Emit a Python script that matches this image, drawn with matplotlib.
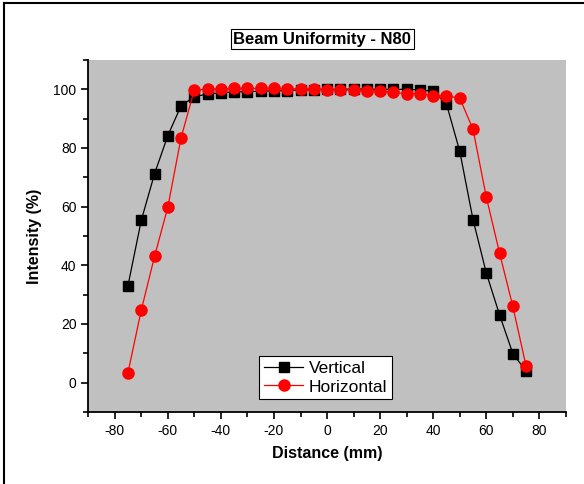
import numpy as np
import matplotlib.pyplot as plt
from matplotlib.lines import Line2D

plt.rcParams['font.family'] = ['Liberation Sans', 'DejaVu Sans']
plt.rcParams['axes.unicode_minus'] = False

distance = [-75, -70, -65, -60, -55, -50, -45, -40, -35, -30, -25, -20, -15, -10, -5, 0,
            5, 10, 15, 20, 25, 30, 35, 40, 45, 50, 55, 60, 65, 70, 75]
vertical = [33.1, 55.3, 71.2, 84.2, 94.4, 97.5, 98.4, 98.8, 99.1, 99.2, 99.4, 99.5, 99.6, 99.8, 99.9, 100.0,
            100.0, 100.1, 100.1, 100.0, 100.0, 100.0, 99.8, 99.3, 95.0, 78.9, 55.6, 37.4, 23.1, 9.9, 3.9]
horizontal = [3.4, 24.7, 43.0, 59.8, 83.5, 99.8, 100.0, 100.2, 100.3, 100.3, 100.3, 100.4, 100.2, 100.2, 100.1, 99.9,
              99.8, 99.7, 99.4, 99.3, 99.0, 98.5, 98.5, 97.8, 97.8, 97.0, 86.4, 63.3, 44.2, 26.0, 5.6]

fig = plt.figure(figsize=(5.84, 4.84), dpi=100)
ax = fig.add_axes([0.151, 0.149, 0.818, 0.727])
ax.set_facecolor('#c0c0c0')

ax.plot(distance, vertical, color='black', lw=0.9, marker='s', ms=6.5, label='Vertical')
ax.plot(distance, horizontal, color='red', lw=0.9, marker='o', ms=8, label='Horizontal')

ax.set_xlim(-90, 90)
ax.set_ylim(-10, 110)
ax.set_xticks(np.arange(-80, 81, 20))
ax.set_xticks(np.arange(-90, 91, 10), minor=True)
ax.set_yticks(np.arange(0, 101, 20))
ax.set_yticks(np.arange(-10, 111, 10), minor=True)
ax.tick_params(which='major', direction='out', length=5, width=1.2, labelsize=10)
ax.tick_params(which='minor', direction='out', length=3.5, width=1.2)
ax.spines['top'].set_visible(False)
ax.spines['right'].set_visible(False)
ax.spines['left'].set_linewidth(1.3)
ax.spines['bottom'].set_linewidth(1.3)

ax.set_xlabel('Distance (mm)', fontsize=11.5, fontweight='bold', labelpad=6)
ax.set_ylabel('Intensity (%)', fontsize=11.5, fontweight='bold', labelpad=8)

leg = ax.legend(loc='lower left', bbox_to_anchor=(0.358, 0.037), borderaxespad=0,
                fontsize=12.5, fancybox=False, framealpha=1, edgecolor='black',
                handlelength=2.3, handletextpad=0.3, borderpad=0.25, labelspacing=0.2)
leg.get_frame().set_linewidth(0.8)

fig.text(0.552, 0.919, 'Beam Uniformity - N80', ha='center', va='center', fontsize=12,
         fontweight='bold',
         bbox=dict(boxstyle='square,pad=0.15', facecolor='white', edgecolor='black', linewidth=0.8))

# figure frame on left and top
fig.add_artist(Line2D([0.006, 0.006], [0, 0.994], color='black', lw=1.5, transform=fig.transFigure))
fig.add_artist(Line2D([0.006, 1], [0.994, 0.994], color='black', lw=1.5, transform=fig.transFigure))

fig.savefig('out.png', dpi=100)
